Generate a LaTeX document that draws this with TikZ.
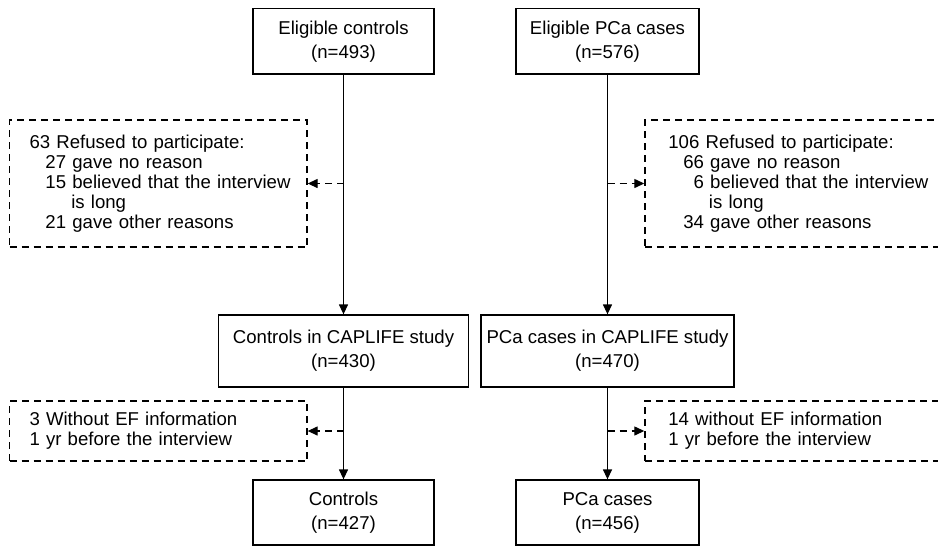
\documentclass[tikz,border=0pt]{standalone}
\usepackage{fontspec}
\setmainfont{Liberation Sans}
\usepackage{tikz}
\usetikzlibrary{arrows.meta, positioning, calc}
\newcommand{\nohyph}{\hyphenpenalty=10000\relax\exhyphenpenalty=10000\relax\hbadness=10000\relax\hfuzz=20pt\relax}

\begin{document}
\begin{tikzpicture}[
    x=0.5pt, y=-0.5pt,
    box/.style={draw, line width=0.65pt, align=center, inner sep=0pt, font=\fontsize{9.3pt}{12pt}\selectfont},
    dbox/.style={draw, line width=0.65pt, dash pattern=on 3.5pt off 2.5pt, align=left, inner xsep=10pt, inner ysep=0pt,
        font=\fontsize{9.3pt}{10pt}\selectfont, execute at begin node=\nohyph},
    arrow/.style={-{Triangle[length=5pt, width=4.5pt]}, line width=0.65pt},
    darrow/.style={arrow, dash pattern=on 3.5pt off 2.5pt}
]
\useasboundingbox (0,0) rectangle (938,547);
\clip (0,0) rectangle (938,547);

% Nodes
\node[box, minimum width=90.5pt, minimum height=32.75pt] (eligc) at (343.5,41.25) {Eligible controls\\(n=493)};
\node[box, minimum width=91.5pt, minimum height=32.75pt] (eligp) at (607.5,41.25) {Eligible PCa cases\\(n=576)};

\node[dbox, text width=128.75pt, minimum height=63.5pt] (refc) at (158.25,183.5) {63 Refused to participate:\\\hspace*{8pt}27 gave no reason\\\hspace*{8pt}\mbox{15 believed that the interview}\\\hspace*{20.9pt}is long\\\hspace*{8pt}21 gave other reasons};
\node[dbox, inner xsep=11.7pt, text width=140pt, minimum height=63.5pt, anchor=west] (refp) at (644.3,183.5) {106 Refused to participate:\\\hspace*{7.5pt}66 gave no reason\\\hspace*{7.5pt}\phantom{6}6 believed that the interview\\\hspace*{20.3pt}is long\\\hspace*{7.5pt}34 gave other reasons};

\node[box, minimum width=125pt, minimum height=36pt] (studyc) at (343.5,351) {Controls in CAPLIFE study\\(n=430)};
\node[box, minimum width=126.5pt, minimum height=36pt] (studyp) at (607.5,351) {PCa cases in CAPLIFE study\\(n=470)};

\node[dbox, text width=128.75pt, minimum height=30pt] (efc) at (158.25,431) {3 Without EF information\\1 yr before the interview};
\node[dbox, inner xsep=11.7pt, text width=140pt, minimum height=30pt, anchor=west] (efp) at (644.3,431) {14 without EF information\\1 yr before the interview};

\node[box, minimum width=90.5pt, minimum height=32.5pt] (finc) at (343.5,512.5) {Controls\\(n=427)};
\node[box, minimum width=91.5pt, minimum height=32.5pt] (finp) at (607.5,512.5) {PCa cases\\(n=456)};

% Connections
\draw[arrow] (eligc) -- (studyc);
\draw[arrow] (eligp) -- (studyp);
\draw[arrow] (studyc) -- (finc);
\draw[arrow] (studyp) -- (finp);

\draw[darrow] (eligc.south |- refc.east) -- (refc.east);
\draw[darrow] (eligp.south |- refp.west) -- (refp.west);
\draw[darrow] (studyc.south |- efc.east) -- (efc.east);
\draw[darrow] (studyp.south |- efp.west) -- (efp.west);

\end{tikzpicture}
\end{document}
